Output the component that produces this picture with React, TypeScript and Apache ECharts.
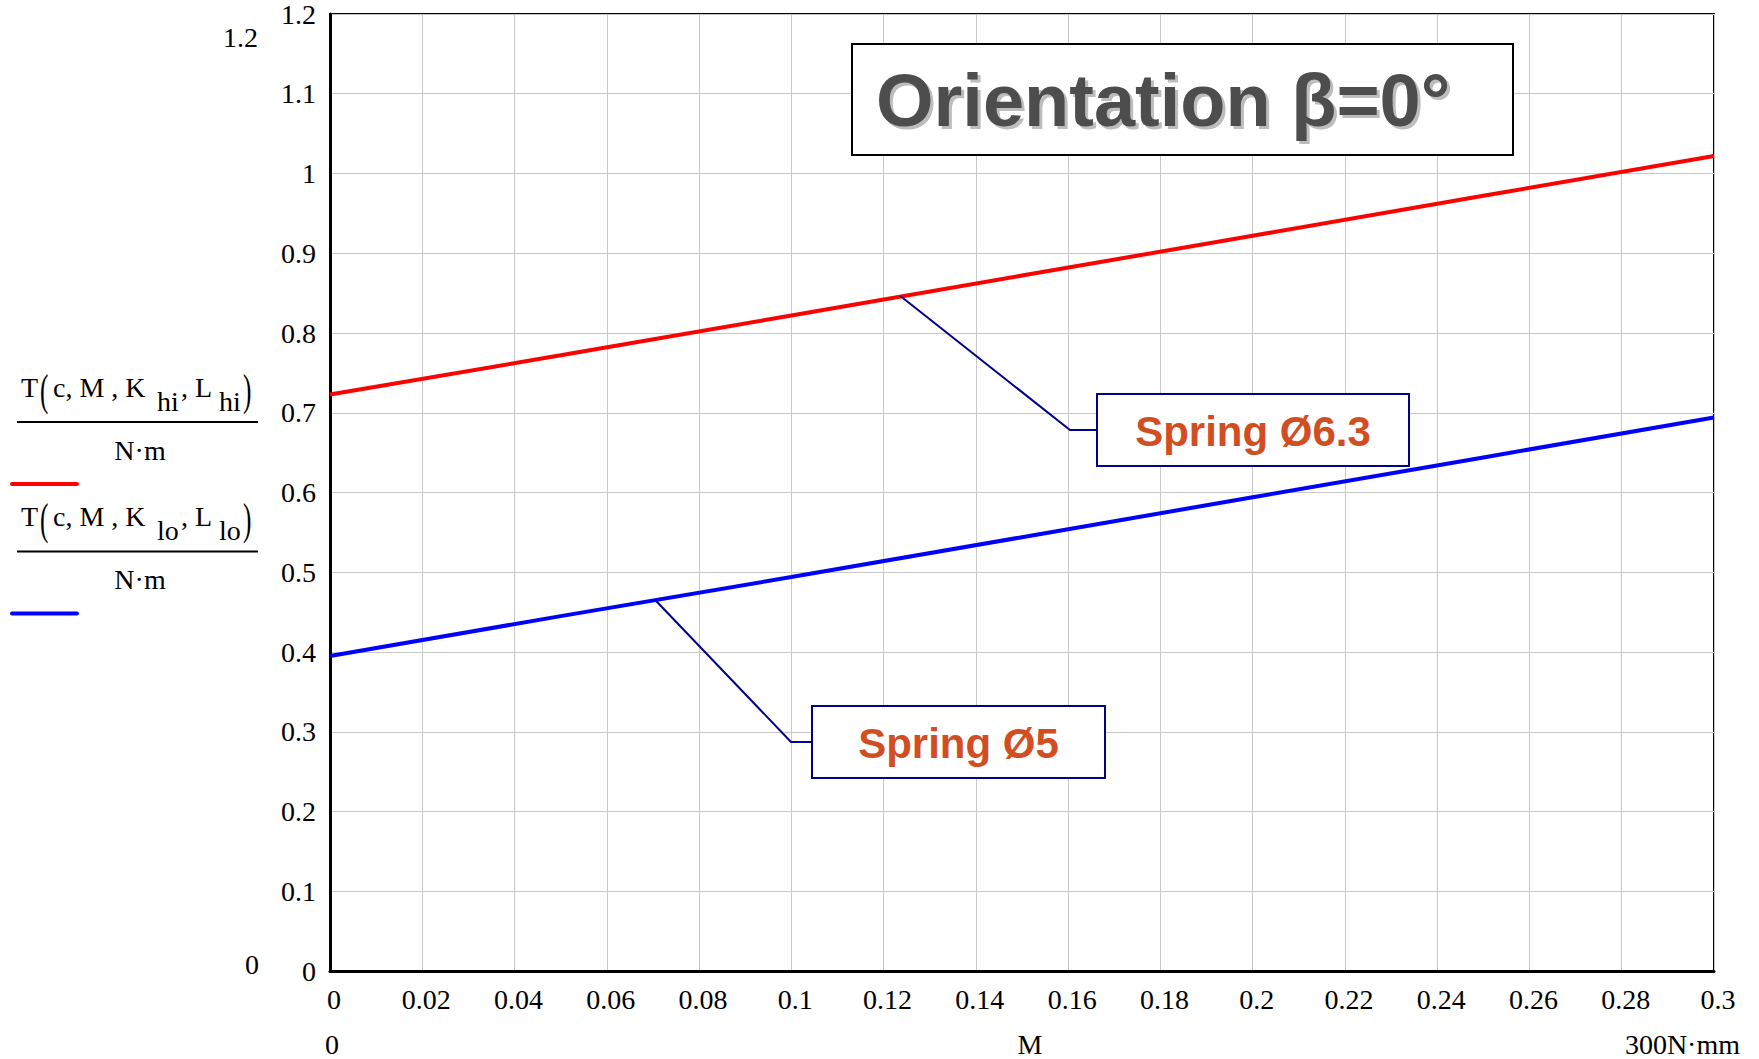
import React, { useEffect, useRef } from "react";
import * as echarts from "echarts";

// M values (x axis, in units of 300 N·mm)
const mValues = [0, 0.05, 0.1, 0.15, 0.2, 0.25, 0.3];
// T(c, M, K_hi, L_hi) / N·m  (Spring Ø6.3)
const hiValues = [0.723, 0.772, 0.822, 0.872, 0.922, 0.972, 1.022];
// T(c, M, K_lo, L_lo) / N·m  (Spring Ø5)
const loValues = [0.395, 0.445, 0.494, 0.544, 0.594, 0.644, 0.694];

const xTickLabels = ["0", "0.02", "0.04", "0.06", "0.08", "0.1", "0.12", "0.14", "0.16", "0.18", "0.2", "0.22", "0.24", "0.26", "0.28", "0.3"];
const yTickLabels = ["0", "0.1", "0.2", "0.3", "0.4", "0.5", "0.6", "0.7", "0.8", "0.9", "1", "1.1", "1.2"];

const titleText = "Orientation β=0°";
const labelHi = "Spring Ø6.3";
const labelLo = "Spring Ø5";
// anchor points on the curves for the leader lines [M, T]
const anchorHi = [0.1237, 0.846];
const anchorLo = [0.0707, 0.464];

const SERIF = "'Liberation Serif', 'Times New Roman', serif";
const SANS = "'Liberation Sans', Arial, sans-serif";

function txt(x: number, y: number, text: string, extra: any = {}, size = 28) {
  return {
    type: "text",
    x,
    y,
    ...extra.el,
    style: {
      text,
      fontSize: size,
      fontFamily: SERIF,
      fill: "#000",
      align: "left",
      verticalAlign: "middle",
      ...extra.style,
    },
  };
}

export default function App() {
  const ref = useRef<HTMLDivElement>(null);
  useEffect(() => {
    document.body.style.margin = "0";
    const chart = echarts.init(ref.current!, null, { renderer: "svg" });
    const fmt = (list: string[], step: number) => (v: number) => {
      const i = Math.round(v / step);
      return list[i] ?? "";
    };
    chart.setOption({
      animation: false,
      backgroundColor: "#fff",
      grid: {
        left: 330,
        top: 13,
        right: 45,
        bottom: 88,
        show: true,
        borderColor: "#000",
        borderWidth: 2,
        containLabel: false,
      },
      xAxis: {
        type: "value",
        min: 0,
        max: 0.3,
        interval: 0.02,
        axisLine: { show: true, onZero: false, lineStyle: { color: "#000", width: 3 } },
        axisTick: { show: false },
        splitLine: { show: true, lineStyle: { color: "#c8c8c8", width: 1 } },
        axisLabel: {
          formatter: fmt(xTickLabels, 0.02),
          fontFamily: SERIF,
          fontSize: 28,
          color: "#000",
          margin: 14,
          padding: [0, 0, 0, 8],
          showMaxLabel: true,
          showMinLabel: true,
        },
      },
      yAxis: {
        type: "value",
        min: 0,
        max: 1.2,
        interval: 0.1,
        axisLine: { show: true, onZero: false, lineStyle: { color: "#000", width: 3 } },
        axisTick: { show: false },
        splitLine: { show: true, lineStyle: { color: "#c8c8c8", width: 1 } },
        axisLabel: {
          formatter: fmt(yTickLabels, 0.1),
          fontFamily: SERIF,
          fontSize: 28,
          color: "#000",
          margin: 14,
          padding: [12, 0, 0, 0],
          showMaxLabel: true,
          showMinLabel: true,
        },
      },
      series: [
        {
          type: "line",
          name: "hi",
          data: mValues.map((m, i) => [m, hiValues[i]]),
          showSymbol: false,
          lineStyle: { color: "#ff0000", width: 4 },
          z: 3,
        },
        {
          type: "line",
          name: "lo",
          data: mValues.map((m, i) => [m, loValues[i]]),
          showSymbol: false,
          lineStyle: { color: "#0000ff", width: 4 },
          z: 3,
        },
      ],
    });

    const pHi = chart.convertToPixel({ xAxisIndex: 0, yAxisIndex: 0 }, anchorHi) as number[];
    const pLo = chart.convertToPixel({ xAxisIndex: 0, yAxisIndex: 0 }, anchorLo) as number[];

    const paren = (x: number, y: number, ch: string) =>
      txt(x, y, ch, { el: { scaleY: 1.6, scaleX: 0.9 } }, 28);
    const sub = (x: number, y: number, s: string) => txt(x, y, s);

    const legendBlock = (dy: number, s: string, color: string) => [
      txt(21, 387 + dy, "T"),
      paren(40, 390 + dy, "("),
      txt(53, 387 + dy, "c, M , K"),
      sub(157, 401 + dy, s),
      txt(181, 387 + dy, ", L"),
      sub(219, 401 + dy, s),
      paren(243, 390 + dy, ")"),
      {
        type: "line",
        shape: { x1: 17, y1: 422 + dy, x2: 258, y2: 422 + dy },
        style: { stroke: "#000", lineWidth: 2 },
      },
      txt(140, 450 + dy, "N·m", { style: { align: "center" } }),
      {
        type: "line",
        shape: { x1: 12, y1: 484 + dy, x2: 77, y2: 484 + dy },
        style: { stroke: color, lineWidth: 4, lineCap: "round" },
      },
    ];

    const graphic: any[] = [
      ...legendBlock(0, "hi", "#ff0000"),
      ...legendBlock(129.5, "lo", "#0000ff"),
      txt(258, 37, "1.2", { style: { align: "right" } }),
      txt(259, 964, "0", { style: { align: "right" } }),
      txt(325, 1044, "0"),
      txt(1030, 1044, "M", { style: { align: "center" } }),
      txt(1740, 1044, "300N·mm", { style: { align: "right" } }),
      // title box
      {
        type: "rect",
        shape: { x: 852, y: 44, width: 661, height: 111 },
        style: { fill: "#fff", stroke: "#000", lineWidth: 2 },
        z: 10,
      },
      {
        type: "text",
        x: 879,
        y: 103,
        z: 11,
        style: { text: titleText, fontSize: 74, fontWeight: "bold", fontFamily: SANS, fill: "#bdbdbd", align: "left", verticalAlign: "middle" },
      },
      {
        type: "text",
        x: 876,
        y: 100,
        z: 12,
        style: { text: titleText, fontSize: 74, fontWeight: "bold", fontFamily: SANS, fill: "#4d4d4d", align: "left", verticalAlign: "middle" },
      },
      // leader Ø6.3
      {
        type: "polyline",
        shape: { points: [[pHi[0], pHi[1]], [1070, 430], [1097, 430]] },
        style: { stroke: "#00008b", lineWidth: 2, fill: null },
        z: 10,
      },
      {
        type: "rect",
        shape: { x: 1097, y: 394, width: 312, height: 72 },
        style: { fill: "#fff", stroke: "#00008b", lineWidth: 2 },
        z: 10,
      },
      {
        type: "text",
        x: 1253,
        y: 431,
        z: 11,
        style: { text: labelHi, fontSize: 42, fontWeight: "bold", fontFamily: SANS, fill: "#d14e23", align: "center", verticalAlign: "middle" },
      },
      // leader Ø5
      {
        type: "polyline",
        shape: { points: [[pLo[0], pLo[1]], [791, 742], [812, 742]] },
        style: { stroke: "#00008b", lineWidth: 2, fill: null },
        z: 10,
      },
      {
        type: "rect",
        shape: { x: 812, y: 706, width: 293, height: 72 },
        style: { fill: "#fff", stroke: "#00008b", lineWidth: 2 },
        z: 10,
      },
      {
        type: "text",
        x: 958.5,
        y: 743,
        z: 11,
        style: { text: labelLo, fontSize: 42, fontWeight: "bold", fontFamily: SANS, fill: "#d14e23", align: "center", verticalAlign: "middle" },
      },
    ];
    chart.setOption({ graphic });

    return () => chart.dispose();
  }, []);
  return <div ref={ref} style={{ width: 1759, height: 1059 }} />;
}
